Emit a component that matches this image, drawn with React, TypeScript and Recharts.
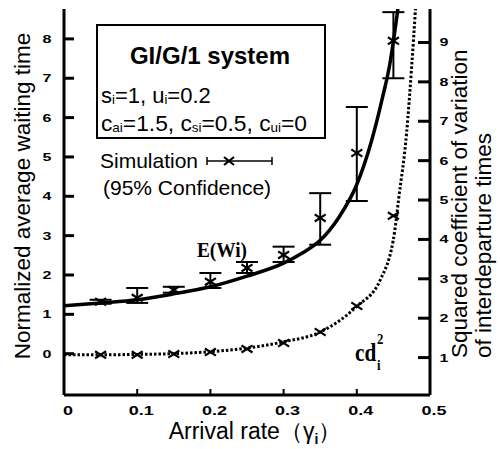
import React from "react";
import {
  ComposedChart,
  Line,
  Scatter,
  XAxis,
  YAxis,
  ErrorBar,
} from "recharts";

// ---- data ----
const xTicks = [0, 0.1, 0.2, 0.3, 0.4, 0.5];
const leftTicks = [0, 1, 2, 3, 4, 5, 6, 7, 8];
const rightTicks = [1, 2, 3, 4, 5, 6, 7, 8, 9];

// analytic E(Wi) curve (left axis)
const ewX = [0, 0.05, 0.1, 0.15, 0.2, 0.25, 0.3, 0.325, 0.35, 0.375, 0.4, 0.42, 0.435, 0.445, 0.452, 0.457, 0.462];
const ewY = [1.22, 1.29, 1.37, 1.52, 1.7, 1.97, 2.3, 2.55, 2.88, 3.45, 4.3, 5.4, 6.5, 7.35, 8.2, 8.9, 9.8];

// analytic cd^2 curve (right axis)
const cdX = [0, 0.05, 0.1, 0.15, 0.2, 0.25, 0.3, 0.35, 0.4, 0.432, 0.452, 0.457, 0.468, 0.475, 0.48, 0.484];
const cdY = [1.07, 1.07, 1.08, 1.1, 1.15, 1.24, 1.4, 1.65, 2.3, 2.97, 4.24, 5.0, 6.7, 8.4, 9.8, 11];

// simulation E(Wi) with 95% confidence
const simX = [0.05, 0.1, 0.15, 0.2, 0.25, 0.3, 0.35, 0.4, 0.45];
const simY = [1.32, 1.42, 1.62, 1.83, 2.18, 2.51, 3.45, 5.1, 7.95];
const simLo = [1.27, 1.29, 1.55, 1.67, 2.05, 2.33, 2.77, 3.88, 7.0];
const simHi = [1.37, 1.67, 1.7, 2.05, 2.33, 2.72, 4.08, 6.27, 8.68];

// simulation cd^2
const simCdX = [0.05, 0.1, 0.15, 0.2, 0.25, 0.3, 0.35, 0.4, 0.45];
const simCdY = [1.07, 1.07, 1.09, 1.14, 1.22, 1.37, 1.65, 2.31, 4.6];

const ewData = ewX.map((x, i) => ({ x, y: ewY[i] }));
const cdData = cdX.map((x, i) => ({ x, y: cdY[i] }));
const simData = simX.map((x, i) => ({
  x,
  y: simY[i],
  err: [simY[i] - simLo[i], simHi[i] - simY[i]],
}));
const simCdData = simCdX.map((x, i) => ({ x, y: simCdY[i] }));

const SANS = "'Liberation Sans', Arial, Helvetica, sans-serif";
const SERIF = "'Liberation Serif', 'Times New Roman', serif";

const Cross = (props: any) => {
  const { cx, cy } = props;
  if (cx == null || cy == null) return null;
  const r = 5.5;
  return (
    <g>
      <line x1={cx - r} y1={cy - r * 0.65} x2={cx + r} y2={cy + r * 0.65} stroke="#000" strokeWidth={2.2} />
      <line x1={cx - r} y1={cy + r * 0.65} x2={cx + r} y2={cy - r * 0.65} stroke="#000" strokeWidth={2.2} />
    </g>
  );
};

const LeftTick = (props: any) => {
  const { x, y, payload } = props;
  return (
    <g>
      <line x1={x} x2={x + 10} y1={y} y2={y} stroke="#000" strokeWidth={3} />
      <text
        transform={`translate(${x - 17},${y + 4}) scale(1.6,1)`}
        textAnchor="middle"
        fontSize={10}
        fontWeight="bold"
        fontFamily={SANS}
        fill="#000"
      >
        {payload.value}
      </text>
    </g>
  );
};

const RightTick = (props: any) => {
  const { x, y, payload } = props;
  return (
    <g>
      <line x1={x - 12} x2={x} y1={y} y2={y} stroke="#000" strokeWidth={3} />
      <text
        transform={`translate(${x + 14},${y + 4}) scale(1.6,1)`}
        textAnchor="middle"
        fontSize={10}
        fontWeight="bold"
        fontFamily={SANS}
        fill="#000"
      >
        {payload.value}
      </text>
    </g>
  );
};

const BottomTick = (props: any) => {
  const { x, y, payload } = props;
  return (
    <g>
      {payload.value > 0 && payload.value < 0.5 ? (
        <line x1={x} x2={x} y1={y - 6} y2={y} stroke="#000" strokeWidth={2} />
      ) : null}
      <text
        transform={`translate(${x + 4},${y + 20}) scale(1.5,1)`}
        textAnchor="middle"
        fontSize={12}
        fontWeight="bold"
        fontFamily={SANS}
        fill="#000"
      >
        {String(payload.value)}
      </text>
    </g>
  );
};

export default function App() {
  return (
    <div style={{ position: "absolute", left: 0, top: 0, width: 500, height: 449, background: "#fff" }}>
      <ComposedChart
        width={500}
        height={449}
        margin={{ top: 9, right: 0, bottom: 0, left: 0 }}
      >
        <XAxis
          xAxisId="b"
          dataKey="x"
          type="number"
          domain={[0, 0.5]}
          ticks={xTicks}
          height={54}
          tickSize={0}
          tickMargin={0}
          tickLine={false}
          axisLine={{ stroke: "#000", strokeWidth: 3 }}
          tick={(p: any) => <BottomTick {...p} />}
          interval={0}
          allowDataOverflow
        />
        <XAxis
          xAxisId="t"
          orientation="top"
          dataKey="x"
          type="number"
          domain={[0, 0.5]}
          height={0}
          tick={false}
          tickLine={false}
          axisLine={{ stroke: "#000", strokeWidth: 3 }}
        />
        <YAxis
          yAxisId="l"
          type="number"
          domain={[-1.05, 8.76]}
          ticks={leftTicks}
          width={64}
          tickSize={0}
          tickMargin={0}
          tickLine={false}
          axisLine={{ stroke: "#000", strokeWidth: 3 }}
          tick={(p: any) => <LeftTick {...p} />}
          interval={0}
          allowDataOverflow
        />
        <YAxis
          yAxisId="r"
          orientation="right"
          type="number"
          domain={[0.05, 9.85]}
          ticks={rightTicks}
          width={70}
          tickSize={0}
          tickMargin={0}
          tickLine={false}
          axisLine={{ stroke: "#000", strokeWidth: 3 }}
          tick={(p: any) => <RightTick {...p} />}
          interval={0}
          allowDataOverflow
        />
        <Line
          xAxisId="b"
          yAxisId="l"
          data={ewData}
          dataKey="y"
          type="monotone"
          stroke="#000"
          strokeWidth={3.5}
          dot={false}
          isAnimationActive={false}
        />
        <Line
          xAxisId="b"
          yAxisId="r"
          data={cdData}
          dataKey="y"
          type="monotone"
          stroke="#000"
          strokeWidth={3}
          strokeDasharray="2.5 2"
          dot={false}
          isAnimationActive={false}
        />
        <Scatter
          xAxisId="b"
          yAxisId="l"
          data={simData}
          dataKey="y"
          shape={<Cross />}
          isAnimationActive={false}
        >
          <ErrorBar dataKey="err" direction="y" width={11} stroke="#000" strokeWidth={2} />
        </Scatter>
        <Scatter
          xAxisId="b"
          yAxisId="r"
          data={simCdData}
          dataKey="y"
          shape={<Cross />}
          isAnimationActive={false}
        />
      </ComposedChart>
      <svg
        width={500}
        height={449}
        style={{ position: "absolute", left: 0, top: 0, pointerEvents: "none" }}
      >
        {/* info box */}
        <rect x={97} y={25} width={228} height={113} fill="#fff" stroke="#000" strokeWidth={2} />
        <text x={210} y={64} textAnchor="middle" fontFamily={SANS} fontWeight="bold" fontSize={24}>
          GI/G/1 system
        </text>
        <text x={101} y={103} fontFamily={SANS} fontSize={22}>
          s<tspan fontSize={13} dy={1}>i</tspan>
          <tspan dy={-1}>=1, u</tspan>
          <tspan fontSize={13} dy={1}>i</tspan>
          <tspan dy={-1}>=0.2</tspan>
        </text>
        <text x={101} y={131} fontFamily={SANS} fontSize={22} textLength={206} lengthAdjust="spacingAndGlyphs">
          c<tspan fontSize={13} dy={1}>ai</tspan>
          <tspan dy={-1}>=1.5, c</tspan>
          <tspan fontSize={13} dy={1}>si</tspan>
          <tspan dy={-1}>=0.5, c</tspan>
          <tspan fontSize={13} dy={1}>ui</tspan>
          <tspan dy={-1}>=0</tspan>
        </text>
        {/* simulation legend */}
        <text x={100} y={168} fontFamily={SANS} fontSize={21}>Simulation</text>
        <text x={103} y={195} fontFamily={SANS} fontSize={21}>(95% Confidence)</text>
        <g stroke="#000" strokeWidth={1.5}>
          <line x1={207} y1={161} x2={272} y2={161} />
          <line x1={207} y1={157} x2={207} y2={165} />
          <line x1={272} y1={157} x2={272} y2={165} />
          <line x1={224} y1={157} x2={234} y2={165} strokeWidth={2.2} />
          <line x1={224} y1={165} x2={234} y2={157} strokeWidth={2.2} />
        </g>
        {/* curve labels */}
        <text x={197} y={257} fontFamily={SERIF} fontWeight="bold" fontSize={22} textLength={50} lengthAdjust="spacingAndGlyphs">
          E(Wi)
        </text>
        <text
          transform="translate(355,361) scale(0.85,1)"
          fontFamily={SERIF}
          fontWeight="bold"
          fontSize={25}
        >
          cd
          <tspan x={26} y={-17} fontSize={15}>2</tspan>
          <tspan x={26} y={9} fontSize={15}>i</tspan>
        </text>
        {/* axis titles */}
        <text
          transform="translate(30,196) rotate(-90)"
          textAnchor="middle"
          fontFamily={SANS}
          fontSize={22.5}
        >
          Normalized average waiting time
        </text>
        <text transform="translate(467,358) rotate(-90)" fontFamily={SANS} fontSize={22.5}>
          Squared coefficient of variation
        </text>
        <text transform="translate(491,358) rotate(-90)" fontFamily={SANS} fontSize={22.5}>
          of interdeparture times
        </text>
        <text x={255} y={439} textAnchor="middle" fontFamily={SANS} fontSize={23}>
          Arrival rate（γ
          <tspan fontSize={14} fontWeight="bold" dy={5}>i</tspan>
          <tspan dy={-5}>）</tspan>
        </text>
      </svg>
    </div>
  );
}
